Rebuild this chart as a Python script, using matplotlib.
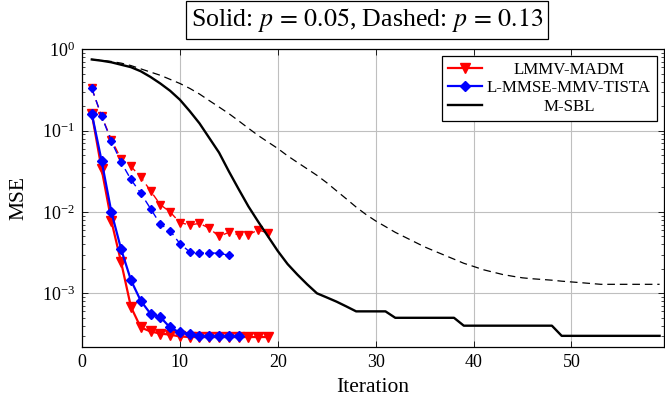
import matplotlib
matplotlib.use("Agg")
import matplotlib.pyplot as plt
from matplotlib.ticker import LogLocator, NullFormatter, FixedLocator

# ---------------- data ----------------
iters_sbl = list(range(1, 60))
sbl_solid = [0.750, 0.724, 0.692, 0.646, 0.603, 0.537, 0.457, 0.380, 0.309, 0.240,
             0.174, 0.123, 0.0813, 0.0537, 0.0316, 0.0191, 0.0117, 0.00759, 0.00501, 0.00331,
             0.00229, 0.00170, 0.00129, 0.00100, 8.9e-4, 7.9e-4, 6.9e-4, 6.0e-4, 6.0e-4, 6.0e-4,
             6.0e-4, 5.0e-4, 5.0e-4, 5.0e-4, 5.0e-4, 5.0e-4, 5.0e-4, 5.0e-4, 4.0e-4, 4.0e-4,
             4.0e-4, 4.0e-4, 4.0e-4, 4.0e-4, 4.0e-4, 4.0e-4, 4.0e-4, 4.0e-4, 3.0e-4, 3.0e-4,
             3.0e-4, 3.0e-4, 3.0e-4, 3.0e-4, 3.0e-4, 3.0e-4, 3.0e-4, 3.0e-4, 3.0e-4]
sbl_dashed = [0.750, 0.733, 0.708, 0.676, 0.631, 0.575, 0.525, 0.479, 0.427, 0.380,
              0.331, 0.282, 0.234, 0.195, 0.162, 0.132, 0.107, 0.0871, 0.0724, 0.0603,
              0.0490, 0.0407, 0.0339, 0.0282, 0.0229, 0.0182, 0.0145, 0.0115, 0.00933, 0.00776,
              0.00661, 0.00562, 0.00490, 0.00427, 0.00372, 0.00331, 0.00295, 0.00263, 0.00234, 0.00214,
              0.00195, 0.00182, 0.00170, 0.00162, 0.00155, 0.00151, 0.00148, 0.00145, 0.00141, 0.00138,
              0.00135, 0.00132, 0.00129, 0.00129, 0.00129, 0.00129, 0.00129, 0.00129, 0.00129]

iters_madm = list(range(1, 20))
madm_solid = [0.162, 0.0339, 0.00776, 0.0024, 6.8e-4, 3.8e-4, 3.4e-4, 3.2e-4, 3.1e-4, 2.95e-4,
              2.9e-4, 2.9e-4, 2.9e-4, 2.9e-4, 2.9e-4, 2.9e-4, 2.9e-4, 2.9e-4, 2.9e-4]
madm_dashed = [0.331, 0.151, 0.0776, 0.0447, 0.0363, 0.0269, 0.0182, 0.0123, 0.0100, 0.00741,
               0.00692, 0.00724, 0.00631, 0.00501, 0.00562, 0.00525, 0.00525, 0.00603, 0.00550]

iters_tista_solid = list(range(1, 17))
tista_solid = [0.162, 0.0427, 0.0100, 0.00347, 0.00145, 8.1e-4, 5.6e-4, 5.1e-4, 3.8e-4, 3.3e-4,
               3.2e-4, 3.0e-4, 3.0e-4, 3.0e-4, 3.0e-4, 3.0e-4]
iters_tista_dashed = list(range(1, 16))
tista_dashed = [0.331, 0.151, 0.0741, 0.0407, 0.0251, 0.0170, 0.0110, 0.00708, 0.00589, 0.00407,
                0.00324, 0.00316, 0.00316, 0.00309, 0.00295]

labels = ["LMMV-MADM", "L-MMSE-MMV-TISTA", "M-SBL"]
xticks = [0, 10, 20, 30, 40, 50]
title_text = r"Solid: $p\,=\,0.05$, Dashed: $p\,=\,0.13$"

# ---------------- style ----------------
plt.rcParams['font.family'] = ['Liberation Serif', 'DejaVu Serif']
plt.rcParams['mathtext.fontset'] = 'stix'
plt.rcParams['lines.scale_dashes'] = False

fig = plt.figure(figsize=(6.65, 4.09), dpi=100)
ax = fig.add_axes([82 / 665, 1 - 347 / 409, (663.5 - 82) / 665, (347 - 49.3) / 409])

dash = (5.5, 3.5)
red = '#ff0000'
blue = '#0000ff'

ax.plot(iters_madm, madm_solid, color=red, lw=1.6, marker='v', ms=7.5, label=labels[0], zorder=3)
ax.plot(iters_madm, madm_dashed, color=red, lw=1.0, ls='--', dashes=dash, marker='v', ms=5.5, zorder=3)
ax.plot(iters_tista_solid, tista_solid, color=blue, lw=1.6, marker='D', ms=5.3, label=labels[1], zorder=4)
ax.plot(iters_tista_dashed, tista_dashed, color=blue, lw=1.0, ls='--', dashes=dash, marker='D', ms=4, zorder=4)
ax.plot(iters_sbl, sbl_solid, color='black', lw=1.7, label=labels[2], zorder=5)
ax.plot(iters_sbl, sbl_dashed, color='black', lw=0.9, ls='--', dashes=dash, zorder=5)

ax.set_yscale('log')
ax.set_ylim(10 ** -3.66, 1.0)
ax.set_xlim(0, 59.4)
ax.xaxis.set_major_locator(FixedLocator(xticks))
ax.yaxis.set_major_locator(LogLocator(base=10, numticks=10))
ax.yaxis.set_minor_locator(LogLocator(base=10, subs=range(2, 10), numticks=20))
ax.yaxis.set_minor_formatter(NullFormatter())

ax.grid(True, which='major', color='#bfbfbf', lw=0.8)
ax.set_axisbelow(True)
ax.tick_params(which='both', direction='in', top=True, right=True, labelsize=13, pad=5)
ax.tick_params(which='major', length=4, width=0.6)
ax.tick_params(which='minor', length=2.5, width=0.5)
for s in ax.spines.values():
    s.set_linewidth(0.9)

ax.set_xlabel("Iteration", fontsize=15.5, labelpad=5)
ax.set_ylabel("MSE", fontsize=15.5, labelpad=10)

leg = ax.legend(loc='upper right', fontsize=12.2, handlelength=2.0, handletextpad=0.3,
                labelspacing=0.15, borderpad=0.35, borderaxespad=0.38, numpoints=1,
                fancybox=False, framealpha=1, edgecolor='black')
leg.get_frame().set_linewidth(0.9)

fig.text(367 / 665, 1 - 20 / 409, title_text, ha='center', va='center', fontsize=18.6,
         bbox=dict(boxstyle='square,pad=0.18', fc='white', ec='black', lw=0.9))

# center legend texts within their column
fig.canvas.draw()
r = fig.canvas.get_renderer()
texts = leg.get_texts()
widths = [t.get_window_extent(r).width for t in texts]
mw = max(widths)
for t, w in zip(texts, widths):
    t.set_x((mw - w) / 2)

fig.savefig("out.png", dpi=100)
